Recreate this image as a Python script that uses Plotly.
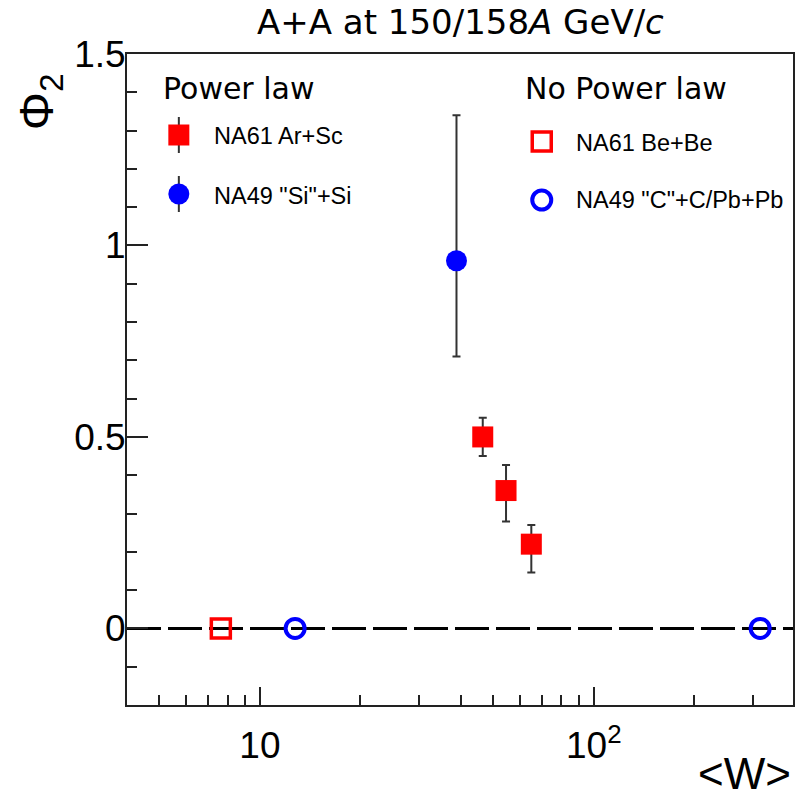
import math
import plotly.graph_objects as go

# ---------------- data ----------------
arsc_w = [46.5, 54.6, 65.0]
arsc_phi = [0.50, 0.36, 0.22]
arsc_err_plus = [0.05, 0.067, 0.05]
arsc_err_minus = [0.05, 0.081, 0.074]

sisi_w = [38.8]
sisi_phi = [0.96]
sisi_err_plus = [0.38]
sisi_err_minus = [0.25]

bebe_w = [7.64]
bebe_phi = [0.0]

ccpb_w = [12.75, 315.0]
ccpb_phi = [0.0, 0.0]

x_tickvals = [10, 100]
x_ticktext = ["10", "10<sup>2</sup>"]
x_minor = [5, 6, 7, 8, 9, 20, 30, 40, 50, 60, 70, 80, 90, 200, 300]
y_tickvals = [0, 0.5, 1, 1.5]
y_ticktext = ["0", "0.5", "1", "1.5"]

title_text = "A+A at 150/158<i>A</i> GeV/<i>c</i>"
legend_left_title = "Power law"
legend_right_title = "No Power law"
legend_names = ["NA61 Ar+Sc", "NA49 \"Si\"+Si", "NA61 Be+Be", "NA49 \"C\"+C/Pb+Pb"]

# ---------------- layout geometry ----------------
W, H = 796, 800
L, R, T, B = 127, 1, 54, 95
PW, PH = W - L - R, H - T - B


def fx(px):
    return (px - L) / PW


def fy(py):
    return (H - B - py) / PH


RED = "#ff0000"
BLUE = "#0000ff"
ERR = "#333333"

fig = go.Figure()

# zero dashed line
fig.add_shape(type="line", xref="x domain", yref="y", x0=0, x1=1, y0=0, y1=0,
              line=dict(color="black", width=3, dash="34px,7px"), layer="below")

fig.add_trace(go.Scatter(
    x=arsc_w, y=arsc_phi, mode="markers",
    marker=dict(symbol="square", size=21, color=RED),
    error_y=dict(type="data", symmetric=False, array=arsc_err_plus,
                 arrayminus=arsc_err_minus, color=ERR, thickness=2, width=4),
    showlegend=False))

fig.add_trace(go.Scatter(
    x=sisi_w, y=sisi_phi, mode="markers",
    marker=dict(symbol="circle", size=21, color=BLUE),
    error_y=dict(type="data", symmetric=False, array=sisi_err_plus,
                 arrayminus=sisi_err_minus, color=ERR, thickness=2, width=4),
    showlegend=False))

fig.add_trace(go.Scatter(
    x=bebe_w, y=bebe_phi, mode="markers",
    marker=dict(symbol="square-open", size=19, color=RED, line=dict(width=3.5, color=RED)),
    showlegend=False))

fig.add_trace(go.Scatter(
    x=ccpb_w, y=ccpb_phi, mode="markers",
    marker=dict(symbol="circle-open", size=19, color=BLUE, line=dict(width=4, color=BLUE)),
    showlegend=False))

# ---- hand-drawn legend on an overlay axis (paper-like coordinates) ----
leg_x = [fx(179), fx(179), fx(543), fx(543)]
leg_y = [fy(135), fy(194), fy(141.5), fy(200)]
leg_err = [18 / PH, 18 / PH, 0, 0]
leg_sym = ["square", "circle", "square-open", "circle-open"]
leg_col = [RED, BLUE, RED, BLUE]
leg_size = [21, 21, 19, 19]
leg_lw = [0, 0, 3.5, 4]
for i in range(4):
    fig.add_trace(go.Scatter(
        x=[leg_x[i]], y=[leg_y[i]], xaxis="x2", yaxis="y2", mode="markers",
        marker=dict(symbol=leg_sym[i], size=leg_size[i], color=leg_col[i],
                    line=dict(width=leg_lw[i], color=leg_col[i])),
        error_y=dict(type="data", array=[leg_err[i]], color=ERR, thickness=2, width=0,
                     visible=leg_err[i] > 0),
        showlegend=False, hoverinfo="skip"))

text_x = [fx(212), fx(212), fx(575), fx(575)]
text_y = [fy(136), fy(196), fy(143), fy(200)]
ann = []
for i in range(4):
    ann.append(dict(text=legend_names[i], x=text_x[i], y=text_y[i], xref="paper", yref="paper",
                    xanchor="left", yanchor="middle", showarrow=False,
                    font=dict(family="Liberation Sans", size=23.5, color="black")))
ann.append(dict(text=legend_left_title, x=fx(161), y=fy(88), xref="paper", yref="paper",
                xanchor="left", yanchor="middle", showarrow=False,
                font=dict(family="DejaVu Sans", size=30, color="black")))
ann.append(dict(text=legend_right_title, x=fx(524), y=fy(88), xref="paper", yref="paper",
                xanchor="left", yanchor="middle", showarrow=False,
                font=dict(family="DejaVu Sans", size=30, color="black")))
# title
ann.append(dict(text=title_text, x=fx(462), y=fy(22), xref="paper", yref="paper",
                xanchor="center", yanchor="middle", showarrow=False,
                font=dict(family="DejaVu Sans", size=34, color="black")))
# axis titles
ann.append(dict(text="Φ<sub>2</sub>", x=fx(40), y=fy(102), xref="paper", yref="paper",
                xanchor="center", yanchor="middle", textangle=-90, showarrow=False,
                font=dict(family="Liberation Sans", size=48, color="black")))
ann.append(dict(text="&lt;W&gt;", x=fx(795), y=fy(800), xref="paper", yref="paper",
                xanchor="right", yanchor="bottom", showarrow=False,
                font=dict(family="Liberation Sans", size=44, color="black")))

axis_common = dict(showline=True, linecolor="#222222", linewidth=2, mirror=True,
                   showgrid=False, zeroline=False, ticks="inside", tickcolor="#222222",
                   tickwidth=1.5, tickfont=dict(family="Liberation Sans", size=37, color="black"))

fig.update_layout(
    width=W, height=H,
    margin=dict(l=L, r=R, t=T, b=B, pad=0),
    paper_bgcolor="white", plot_bgcolor="white",
    showlegend=False,
    xaxis=dict(type="log", range=[math.log10(4), math.log10(395)],
               tickmode="array", tickvals=x_tickvals, ticktext=x_ticktext, ticklen=18,
               ticklabelstandoff=7,
               minor=dict(tickmode="array", tickvals=x_minor, ticks="inside", ticklen=10,
                          tickcolor="#222222", tickwidth=1.5, showgrid=False),
               **axis_common),
    yaxis=dict(range=[-0.2, 1.5], tickmode="array", tickvals=y_tickvals, ticktext=y_ticktext,
               ticklen=21, ticklabelstandoff=-8,
               minor=dict(dtick=0.1, ticks="inside", ticklen=10, tickcolor="#222222",
                          tickwidth=1.5, showgrid=False),
               **axis_common),
    xaxis2=dict(overlaying="x", range=[0, 1], visible=False, fixedrange=True),
    yaxis2=dict(overlaying="y", range=[0, 1], visible=False, fixedrange=True),
    annotations=ann,
)

fig.write_html("out.html")
